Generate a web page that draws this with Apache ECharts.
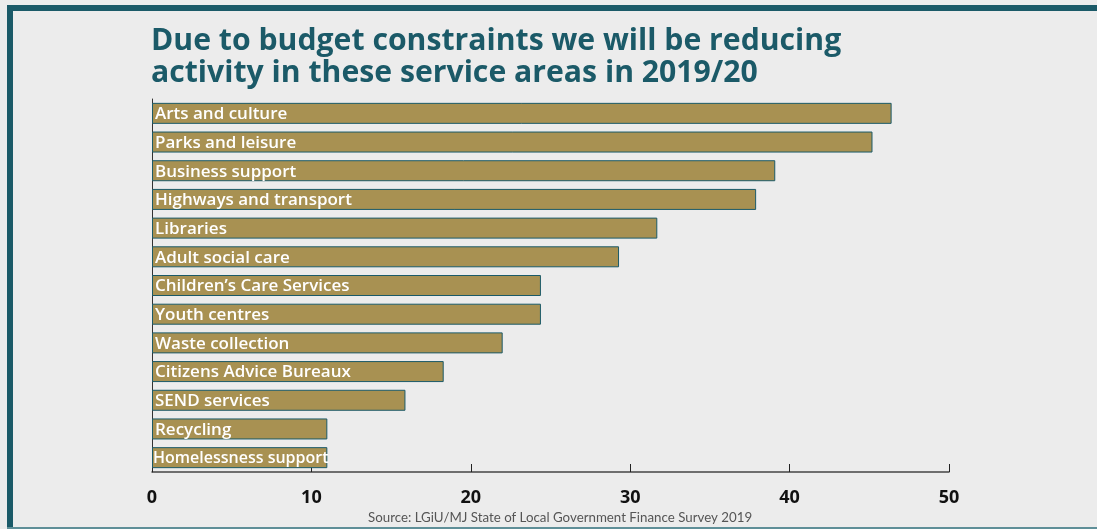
<!DOCTYPE html>
<html>
<head>
<meta charset="utf-8">
<script src="https://cdn.jsdelivr.net/npm/echarts@6/dist/echarts.min.js"></script>
<style>
  html, body { margin: 0; padding: 0; background: #ececec; }
  #chart { width: 1097px; height: 529px; }
</style>
</head>
<body>
<div id="chart"></div>
<script>
// Service areas, top to bottom as drawn
const categories = [
  'Arts and culture',
  'Parks and leisure',
  'Business support',
  'Highways and transport',
  'Libraries',
  'Adult social care',
  'Children\u2019s Care Services',
  'Youth centres',
  'Waste collection',
  'Citizens Advice Bureaux',
  'SEND services',
  'Recycling',
  'Homelessness support'
];
// Share of councils reducing activity (%)
const values = [46.4, 45.2, 39.1, 37.9, 31.7, 29.3, 24.4, 24.4, 22.0, 18.3, 15.9, 11.0, 11.0];
const xTicks = [0, 10, 20, 30, 40, 50];

const teal = '#1b5a68';
const gold = '#a89152';

// The last label is set a touch smaller so it stays inside its short bar
const barData = values.map((v, i) =>
  categories[i] === 'Homelessness support'
    ? { value: v, label: { fontSize: 16, distance: 1 } }
    : v
);

const chart = echarts.init(document.getElementById('chart'), null, { renderer: 'canvas' });
chart.setOption({
  backgroundColor: '#ececec',
  animation: false,
  title: {
    text: 'Due to budget constraints we will be reducing\nactivity in these service areas in 2019/20',
    left: 146,
    top: 20,
    textStyle: {
      fontFamily: 'Open Sans',
      fontWeight: 'bold',
      fontSize: 30.2,
      lineHeight: 32,
      color: teal
    }
  },
  graphic: [
    { type: 'rect', shape: { x: 7, y: 5, width: 1100, height: 6 }, style: { fill: teal } },
    { type: 'rect', shape: { x: 7, y: 5, width: 6, height: 530 }, style: { fill: teal } },
    { type: 'rect', shape: { x: 7, y: 527, width: 1100, height: 2 }, style: { fill: '#5f8f98' } },
    {
      type: 'text', left: 368, top: 511,
      style: {
        text: 'Source: LGiU/MJ State of Local Government Finance Survey 2019',
        font: '13.3px Lato', fill: '#555555'
      }
    }
  ],
  grid: { left: 152, right: 148, top: 99, bottom: 57, containLabel: false },
  xAxis: {
    type: 'value',
    min: 0, max: 50, interval: 10,
    axisLine: { show: true, lineStyle: { color: '#444', width: 1.5 } },
    axisTick: { show: true, inside: true, length: 8, lineStyle: { color: '#222', width: 1 } },
    splitLine: { show: false },
    axisLabel: {
      margin: 17,
      fontFamily: 'Open Sans', fontWeight: 'bold', fontSize: 18, color: '#111',
      formatter: v => (xTicks.indexOf(v) >= 0 ? String(v) : '')
    }
  },
  yAxis: {
    type: 'category',
    data: categories,
    inverse: true,
    axisLine: { show: true, lineStyle: { color: '#333', width: 1 } },
    axisTick: { show: false },
    axisLabel: { show: false }
  },
  series: [{
    type: 'bar',
    data: barData,
    barWidth: 21,
    itemStyle: { color: gold, borderColor: teal, borderWidth: 1 },
    label: {
      show: true,
      position: 'insideLeft',
      distance: 3,
      offset: [0, 1],
      formatter: p => categories[p.dataIndex],
      fontFamily: 'Open Sans', fontWeight: 600, fontSize: 17, color: '#ffffff'
    }
  }]
});
</script>
</body>
</html>
